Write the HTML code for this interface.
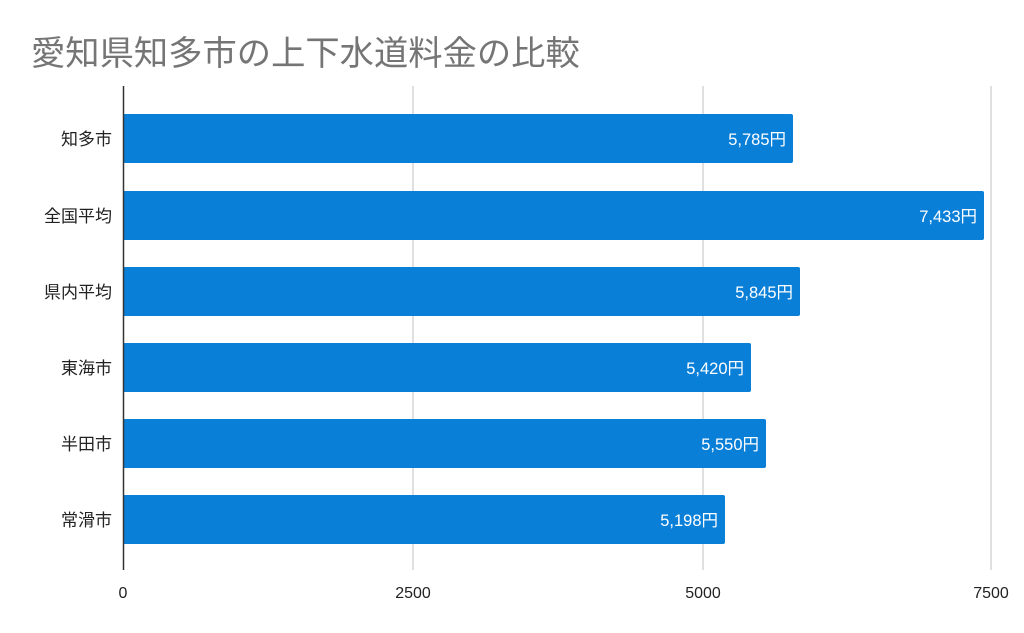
<!DOCTYPE html>
<html><head><meta charset="utf-8"><style>
body{margin:0;background:#fff;}
svg{display:block}
text{font-family:"Liberation Sans","Noto Sans CJK JP",sans-serif;}
</style></head><body>
<svg width="1024" height="633" xmlns="http://www.w3.org/2000/svg">
<rect width="1024" height="633" fill="#fff"/>
<text x="31" y="65" font-size="34.3" fill="#757575">愛知県知多市の上下水道料金の比較</text>
<g stroke="#cccccc" stroke-width="1.2">
<line x1="413" y1="86" x2="413" y2="570"/>
<line x1="703" y1="86" x2="703" y2="570"/>
<line x1="991" y1="86" x2="991" y2="570"/>
</g>
<g fill="#0a7fd8">
<rect x="123" y="114" width="670" height="49" rx="2"/>
<rect x="123" y="191" width="861" height="49" rx="2"/>
<rect x="123" y="267" width="677" height="49" rx="2"/>
<rect x="123" y="343" width="628" height="49" rx="2"/>
<rect x="123" y="419" width="643" height="49" rx="2"/>
<rect x="123" y="495" width="602" height="49" rx="2"/>
</g>
<line x1="123.5" y1="86" x2="123.5" y2="570" stroke="#333" stroke-width="1.5"/>
<g font-size="17" fill="#222" text-anchor="end">
<text x="112" y="145">知多市</text>
<text x="112" y="222">全国平均</text>
<text x="112" y="298">県内平均</text>
<text x="112" y="374">東海市</text>
<text x="112" y="450">半田市</text>
<text x="112" y="526">常滑市</text>
</g>
<g font-size="16.5" fill="#fff" text-anchor="end">
<text x="786" y="145">5,785円</text>
<text x="977" y="222">7,433円</text>
<text x="793" y="298">5,845円</text>
<text x="744" y="374">5,420円</text>
<text x="759" y="450">5,550円</text>
<text x="718" y="526">5,198円</text>
</g>
<g font-size="16" fill="#222" text-anchor="middle">
<text x="123" y="598">0</text>
<text x="413" y="598">2500</text>
<text x="703" y="598">5000</text>
<text x="991" y="598">7500</text>
</g>
</svg>
</body></html>
